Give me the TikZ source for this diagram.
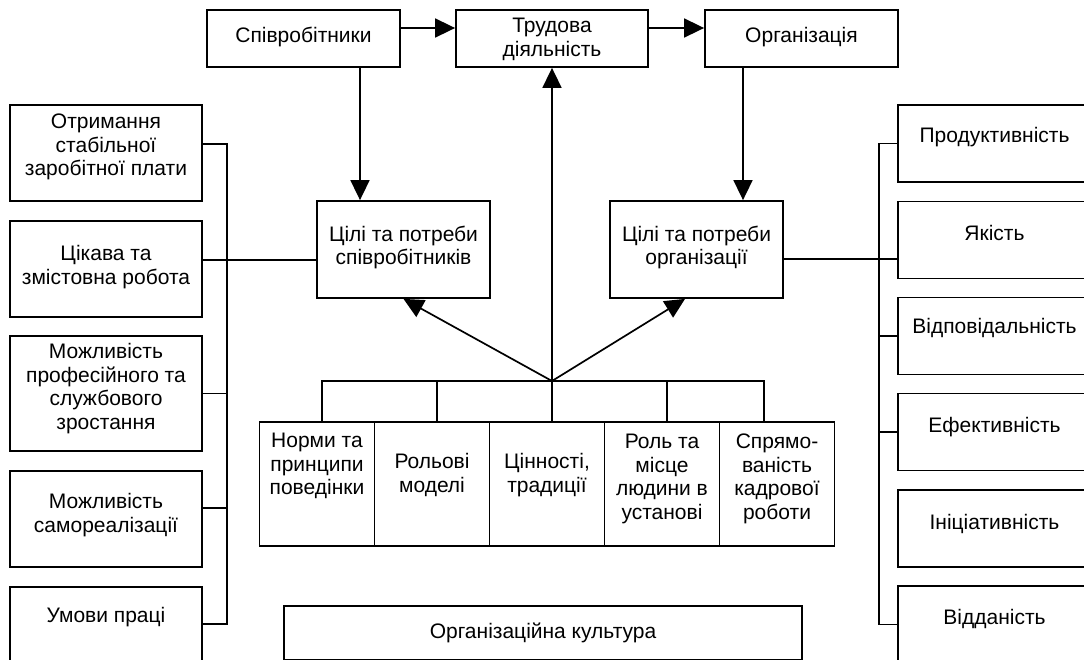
\documentclass[tikz,border=0pt]{standalone}
\usepackage{fontspec}
\setmainfont{Liberation Sans}
\usetikzlibrary{arrows.meta}

\begin{document}
\begin{tikzpicture}[x=1pt, y=-1pt,
    box/.style={draw, line width=1.8pt, inner sep=0pt},
    txt/.style={align=center, inner sep=0pt, font=\fontsize{21}{23.5}\selectfont},
    link/.style={line width=1.7pt},
    arr/.style={link, -{Triangle[length=20pt, width=19pt]}}]
    % Frame of the picture
    \useasboundingbox (0,0) rectangle (1084,659);
    \clip (0,0) rectangle (1084,659);
    % Top row
    \node[box, minimum width=193pt, minimum height=57pt, label={[txt,yshift=2pt]center:Співробітники}] (spiv) at (303.5,38.5) {};
    \node[box, minimum width=192pt, minimum height=57pt, label={[txt,yshift=-1pt]center:{Трудова\\діяльність}}] (trud) at (552,38.5) {};
    \node[box, minimum width=193pt, minimum height=57pt, label={[txt,yshift=1pt]center:Організація}] (org) at (801.5,38.5) {};
    % Goals and needs
    \node[box, minimum width=173pt, minimum height=97pt, label={[txt,yshift=2pt]center:{Цілі та потреби\\співробітників}}] (tsilspiv) at (403.5,249.5) {};
    \node[box, minimum width=173pt, minimum height=97pt, label={[txt,yshift=2pt]center:{Цілі та потреби\\організації}}] (tsilorg) at (696.5,249.5) {};
    % Left column
    \node[box, minimum width=192pt, minimum height=96pt, label={[txt,yshift=6pt]center:{Отримання\\стабільної\\заробітної плати}}] (otr) at (106,153) {};
    \node[box, minimum width=192pt, minimum height=96pt, label={[txt,yshift=2pt]center:{Цікава та\\змістовна робота}}] (tsik) at (106,269) {};
    \node[box, minimum width=192pt, minimum height=115pt, label={[txt,yshift=5pt]center:{Можливість\\професійного та\\службового\\зростання}}] (mprof) at (106,393.5) {};
    \node[box, minimum width=192pt, minimum height=96pt, label={[txt,yshift=4pt]center:{Можливість\\самореалізації}}] (msam) at (106,519) {};
    \node[box, minimum width=192pt, minimum height=96pt, label={[txt,yshift=18pt]center:{Умови праці}}] (umovy) at (106,635) {};
    % Right column
    \node[box, minimum width=193pt, minimum height=77pt, label={[txt,yshift=6pt]center:Продуктивність}] (prod) at (994.5,143.5) {};
    \node[box, minimum width=193pt, minimum height=77pt, label={[txt,yshift=7pt]center:Якість}] (yak) at (994.5,240) {};
    \node[box, minimum width=193pt, minimum height=77pt, label={[txt,yshift=8pt]center:Відповідальність}] (vidp) at (994.5,336) {};
    \node[box, minimum width=193pt, minimum height=77pt, label={[txt,yshift=5pt]center:Ефективність}] (efek) at (994.5,432) {};
    \node[box, minimum width=193pt, minimum height=77pt, label={[txt,yshift=5pt]center:Ініціативність}] (inic) at (994.5,528.5) {};
    \node[box, minimum width=193pt, minimum height=77pt, label={[txt,yshift=6pt]center:Відданість}] (vidd) at (994.5,624.5) {};
    % Bottom row
    \node[box, minimum width=115pt, minimum height=124pt, label={[txt,yshift=18pt]center:{Норми та\\принципи\\поведінки}}] (c1) at (317,484) {};
    \node[box, minimum width=115pt, minimum height=124pt, label={[txt,yshift=9pt]center:{Рольові\\моделі}}] (c2) at (432,484) {};
    \node[box, minimum width=115pt, minimum height=124pt, label={[txt,yshift=9pt]center:{Цінності,\\традиції}}] (c3) at (547,484) {};
    \node[box, minimum width=115pt, minimum height=124pt, label={[txt,yshift=5pt]center:{Роль та\\місце\\людини в\\установі}}] (c4) at (662,484) {};
    \node[box, minimum width=115pt, minimum height=124pt, label={[txt,yshift=5pt]center:{Спрямо-\\ваність\\кадрової\\роботи}}] (c5) at (777,484) {};
    % Culture
    \node[box, minimum width=518pt, minimum height=54pt, label={[txt]center:{Організаційна культура}}] (kult) at (543,633) {};

    % Top arrows
    \draw[arr] ([yshift=10.5pt]spiv.east) -- ([yshift=10.5pt]trud.west);
    \draw[arr] ([yshift=10.5pt]trud.east) -- ([yshift=10.5pt]org.west);
    \draw[arr] ([xshift=56.5pt]spiv.south) -- ([xshift=56.5pt]spiv.south |- tsilspiv.north);
    \draw[arr] ([xshift=-58.5pt]org.south) -- ([xshift=-58.5pt]org.south |- tsilorg.north);
    % Arrows from the hub
    \coordinate (hub) at (552,381);
    \draw[arr] (hub) -- (trud.south);
    \draw[arr] (hub) -- (tsilspiv.south);
    \draw[arr] (hub) -- ([xshift=-11.5pt]tsilorg.south);
    % Bus to the bottom row
    \draw[link] ([xshift=5pt]c1.north) |- (hub) -| ([xshift=-13pt]c5.north);
    \foreach \cell in {c2,c3,c4}
        \draw[link] ([xshift=5pt]\cell.north) -- ([xshift=5pt]\cell.north |- hub);
    % Left bus
    \coordinate (lbus) at (227,0);
    \draw[link] ([yshift=9pt]otr.east) -| ([yshift=11pt]umovy.east -| lbus) -- ([yshift=11pt]umovy.east);
    \draw[link] ([yshift=9pt]tsik.east) -- ([yshift=9pt]tsik.east -| tsilspiv.west);
    \draw[link] (mprof.east) -- (mprof.east -| lbus);
    \draw[link] ([yshift=11pt]msam.east) -- ([yshift=11pt]msam.east -| lbus);
    % Right bus
    \coordinate (rbus) at (879,0);
    \draw[link] (prod.west) -| (vidd.west -| rbus) -- (vidd.west);
    \draw[link] ([yshift=-19pt]yak.west) -- ([yshift=-19pt]yak.west -| tsilorg.east);
    \draw[link] (vidp.west) -- (vidp.west -| rbus);
    \draw[link] (efek.west) -- (efek.west -| rbus);
\end{tikzpicture}
\end{document}
